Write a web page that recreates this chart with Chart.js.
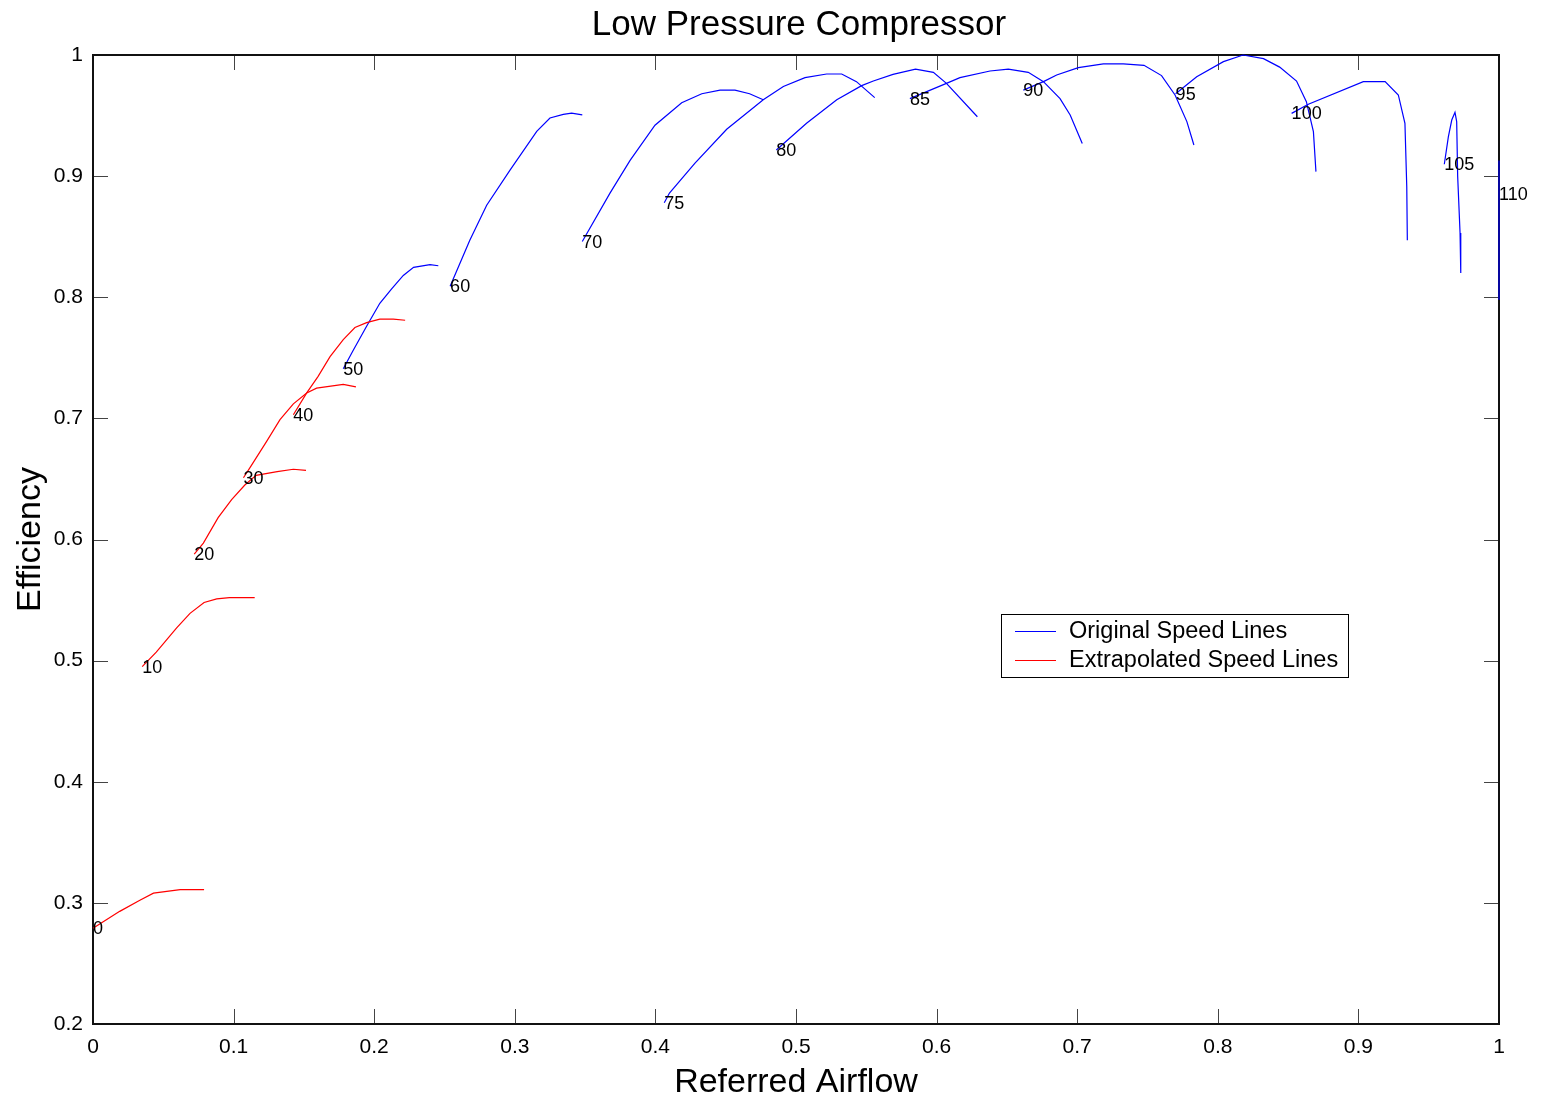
<!DOCTYPE html>
<html>
<head>
<meta charset="utf-8">
<title>Low Pressure Compressor</title>
<script src="https://cdn.jsdelivr.net/npm/chart.js@4.4.0/dist/chart.umd.min.js"></script>
<style>
  html, body { margin: 0; padding: 0; background: #fff; }
</style>
</head>
<body>
<canvas id="chart" width="1549" height="1103"></canvas>
<script>
// ---- data (referred airflow vs efficiency) ----
const speeds = [0, 10, 20, 30, 40, 50, 60, 70, 75, 80, 85, 90, 95, 100, 105, 110]
const extrapolated = [0, 10, 20, 30, 40] // red lines, the rest are original

const n0x = [0, 0.019, 0.033, 0.043, 0.062, 0.079]
const n0y = [0.279, 0.293, 0.302, 0.308, 0.311, 0.311]
const n10x = [0.035, 0.045, 0.0595, 0.069, 0.079, 0.088, 0.097, 0.115]
const n10y = [0.495, 0.507, 0.527, 0.539, 0.548, 0.551, 0.552, 0.552]
const n20x = [0.072, 0.0785, 0.089, 0.0986, 0.108, 0.116, 0.131, 0.1425, 0.1515]
const n20y = [0.588, 0.597, 0.618, 0.633, 0.645, 0.653, 0.656, 0.658, 0.657]
const n30x = [0.107, 0.112, 0.1235, 0.133, 0.1425, 0.152, 0.159, 0.178, 0.187]
const n30y = [0.651, 0.66, 0.681, 0.699, 0.712, 0.721, 0.725, 0.728, 0.726]
const n40x = [0.1425, 0.152, 0.16, 0.1686, 0.178, 0.1863, 0.1946, 0.204, 0.2136, 0.222]
const n40y = [0.703, 0.721, 0.7345, 0.751, 0.765, 0.775, 0.779, 0.782, 0.782, 0.781]
const n50x = [0.178, 0.185, 0.1946, 0.204, 0.2124, 0.2207, 0.228, 0.2397, 0.2456]
const n50y = [0.741, 0.756, 0.776, 0.795, 0.807, 0.818, 0.8247, 0.827, 0.826]
const n60x = [0.254, 0.268, 0.28, 0.2966, 0.3156, 0.325, 0.3345, 0.3404, 0.348]
const n60y = [0.809, 0.847, 0.876, 0.905, 0.937, 0.948, 0.951, 0.952, 0.9505]
const n70x = [0.348, 0.3677, 0.382, 0.3997, 0.4187, 0.433, 0.446, 0.4566, 0.467, 0.4767]
const n70y = [0.846, 0.886, 0.913, 0.942, 0.9606, 0.968, 0.971, 0.971, 0.968, 0.963]
const n75x = [0.4063, 0.41, 0.428, 0.4507, 0.4767, 0.491, 0.5064, 0.5218, 0.5325, 0.543, 0.556]
const n75y = [0.878, 0.886, 0.9106, 0.9387, 0.963, 0.974, 0.9813, 0.9843, 0.9843, 0.978, 0.9648]
const n80x = [0.486, 0.5075, 0.529, 0.5467, 0.555, 0.569, 0.585, 0.5977, 0.607, 0.629]
const n80y = [0.9216, 0.9436, 0.963, 0.9747, 0.9785, 0.984, 0.9884, 0.9857, 0.9766, 0.949]
const n85x = [0.581, 0.607, 0.6166, 0.638, 0.651, 0.6652, 0.676, 0.6878, 0.695, 0.7036]
const n85y = [0.964, 0.9766, 0.9813, 0.9868, 0.9884, 0.9857, 0.978, 0.964, 0.9505, 0.927]
const n90x = [0.6617, 0.676, 0.6854, 0.7008, 0.7186, 0.7328, 0.7475, 0.76, 0.7696, 0.778, 0.783]
const n90y = [0.971, 0.978, 0.9835, 0.9896, 0.9926, 0.9926, 0.9915, 0.983, 0.967, 0.945, 0.9257]
const n95x = [0.77, 0.785, 0.804, 0.818, 0.8325, 0.844, 0.856, 0.863, 0.868, 0.8698]
const n95y = [0.968, 0.982, 0.9945, 1.0, 0.997, 0.99, 0.9785, 0.9615, 0.9367, 0.9037]
const n100x = [0.8525, 0.8644, 0.9035, 0.919, 0.9284, 0.9331, 0.9344, 0.9348]
const n100y = [0.9518, 0.9593, 0.978, 0.978, 0.967, 0.9436, 0.891, 0.847]
const n105x = [0.9611, 0.964, 0.9664, 0.9687, 0.9699, 0.9706, 0.9723, 0.9728]
const n105y = [0.9098, 0.9326, 0.9463, 0.9527, 0.945, 0.9, 0.853, 0.82]
const n110x = [1, 1, 1, 1]
const n110y = [0.885, 0.913, 0.85, 0.798]

const xTicks = [0, 0.1, 0.2, 0.3, 0.4, 0.5, 0.6, 0.7, 0.8, 0.9, 1]
const yTicks = [0.2, 0.3, 0.4, 0.5, 0.6, 0.7, 0.8, 0.9, 1]

const curvesX = [n0x, n10x, n20x, n30x, n40x, n50x, n60x, n70x, n75x, n80x, n85x, n90x, n95x, n100x, n105x, n110x]
const curvesY = [n0y, n10y, n20y, n30y, n40y, n50y, n60y, n70y, n75y, n80y, n85y, n90y, n95y, n100y, n105y, n110y]

const BLUE = '#0000ff'
const RED = '#ff0000'
const FONT = "'Liberation Sans', Arial, Helvetica, sans-serif"
const TITLE = 'Low Pressure Compressor'

Chart.defaults.font.family = FONT
Chart.defaults.color = '#000'

// build one dataset per speed line
const datasets = speeds.map(function (s, i) {
	const col = extrapolated.includes(s) ? RED : BLUE
	return {
		label: String(s),
		data: curvesX[i].map((v, k) => ({ x: v, y: curvesY[i][k] })),
		showLine: true,
		borderColor: col,
		backgroundColor: col,
		borderWidth: 1.2,
		pointRadius: 0,
		tension: 0,
		clip: false,
	}
})

// matlab style ticks ("1" not "1.0")
const fmt = v => String(Math.round(v * 10) / 10)

// box + inward tick marks, drawn under the lines; title, labels and legend on top
const framePlugin = {
	id: 'frame',
	beforeDatasetsDraw(chart) {
		const { ctx, chartArea: a, scales } = chart
		const tl = 15
		ctx.save()
		ctx.strokeStyle = '#444'
		ctx.lineWidth = 1
		ctx.beginPath()
		xTicks.forEach(function (v) {
			const px = Math.round(scales.x.getPixelForValue(v)) + 0.5
			ctx.moveTo(px, a.bottom)
			ctx.lineTo(px, a.bottom - tl)
			ctx.moveTo(px, a.top)
			ctx.lineTo(px, a.top + tl)
		})
		yTicks.forEach(function (v) {
			const py = Math.round(scales.y.getPixelForValue(v)) + 0.5
			ctx.moveTo(a.left, py)
			ctx.lineTo(a.left + tl, py)
			ctx.moveTo(a.right, py)
			ctx.lineTo(a.right - tl, py)
		})
		ctx.stroke()
		ctx.strokeStyle = '#111'
		ctx.lineWidth = 2
		ctx.strokeRect(a.left, a.top, a.right - a.left, a.bottom - a.top)
		ctx.restore()
	},
	afterDatasetsDraw(chart) {
		const { ctx, chartArea: a, scales } = chart
		ctx.save()

		// title centred over the plot box
		ctx.fillStyle = '#000'
		ctx.font = '35px ' + FONT
		ctx.textAlign = 'center'
		ctx.textBaseline = 'middle'
		ctx.fillText(TITLE, (a.left + a.right) / 2 + 3, 25)

		// speed labels at the first point of every line
		ctx.font = '18px ' + FONT
		ctx.textAlign = 'left'
		speeds.forEach(function (s, i) {
			const px = scales.x.getPixelForValue(curvesX[i][0])
			const py = scales.y.getPixelForValue(curvesY[i][0])
			ctx.fillText(String(s), px, py + 1)
		})

		// legend box
		const lx = a.left + 908
		const ly = a.top + 559
		const lw = 347
		const lh = 63
		ctx.fillStyle = '#fff'
		ctx.fillRect(lx, ly, lw, lh)
		ctx.strokeStyle = '#000'
		ctx.lineWidth = 1
		ctx.strokeRect(lx + 0.5, ly + 0.5, lw, lh)
		const items = [
			['Original Speed Lines', BLUE],
			['Extrapolated Speed Lines', RED],
		]
		ctx.font = '23.5px ' + FONT
		items.forEach(function (it, k) {
			const yy = ly + 17 + k * 29
			ctx.strokeStyle = it[1]
			ctx.lineWidth = 1.2
			ctx.beginPath()
			ctx.moveTo(lx + 14, yy + 0.5)
			ctx.lineTo(lx + 55, yy + 0.5)
			ctx.stroke()
			ctx.fillStyle = '#000'
			ctx.fillText(it[0], lx + 68, yy + 1)
		})
		ctx.restore()
	},
}

const ctx = document.getElementById('chart').getContext('2d')
new Chart(ctx, {
	type: 'scatter',
	data: { datasets: datasets },
	options: {
		responsive: false,
		animation: false,
		layout: { padding: { left: 0, right: 50, top: 55, bottom: 0 } },
		scales: {
			x: {
				type: 'linear',
				min: 0,
				max: 1,
				afterFit: s => { s.height = 79 },
				afterBuildTicks: s => { s.ticks = xTicks.map(v => ({ value: v })) },
				grid: { display: false, drawTicks: false },
				border: { display: false },
				ticks: { padding: 11, font: { size: 21 }, color: '#000', callback: fmt },
				title: {
					display: true,
					text: 'Referred Airflow',
					font: { size: 34 },
					color: '#000',
					padding: { top: 0, bottom: 0 },
				},
			},
			y: {
				type: 'linear',
				min: 0.2,
				max: 1,
				afterFit: s => { s.width = 93 },
				afterBuildTicks: s => { s.ticks = yTicks.map(v => ({ value: v })) },
				grid: { display: false, drawTicks: false },
				border: { display: false },
				ticks: { padding: 10, font: { size: 21 }, color: '#000', callback: fmt },
				title: {
					display: true,
					text: 'Efficiency',
					font: { size: 34 },
					color: '#000',
					padding: { top: 10, bottom: 0 },
				},
			},
		},
		plugins: {
			legend: { display: false },
			tooltip: { enabled: false },
			title: { display: false },
		},
	},
	plugins: [framePlugin],
})
</script>
</body>
</html>
